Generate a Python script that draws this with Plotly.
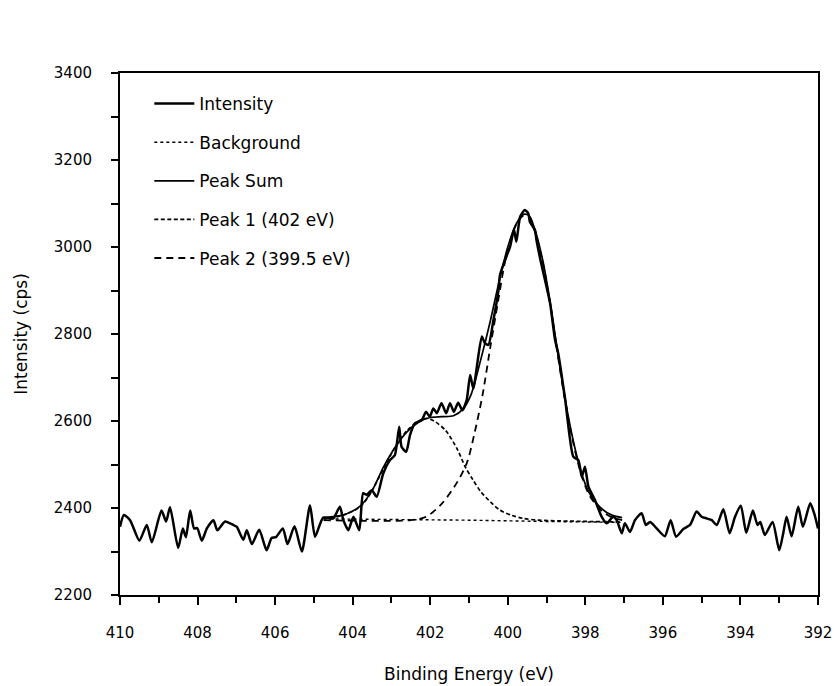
import plotly.graph_objects as go

# Measured spectrum (binding energy eV, intensity cps)
int_x = [410.00, 409.90, 409.74, 409.50, 409.31, 409.18, 408.93, 408.81, 408.71, 408.50,
         408.38, 408.30, 408.19, 408.09, 408.01, 407.89, 407.76, 407.59, 407.49, 407.29,
         407.08, 406.99, 406.82, 406.73, 406.60, 406.41, 406.22, 406.09, 405.98, 405.80,
         405.68, 405.50, 405.31, 405.10, 404.97, 404.76, 404.50, 404.33, 404.24, 404.11,
         403.98, 403.83, 403.73, 403.64, 403.51, 403.38, 403.21, 403.04, 402.91, 402.80,
         402.74, 402.62, 402.52, 402.39, 402.22, 402.11, 402.01, 401.92, 401.83, 401.71,
         401.59, 401.49, 401.39, 401.28, 401.17, 401.06, 400.97, 400.89, 400.67, 400.59,
         400.50, 400.37, 400.24, 400.20, 400.07, 399.94, 399.84, 399.78, 399.68, 399.56,
         399.47, 399.43, 399.30, 399.26, 399.13, 399.04, 398.91, 398.78, 398.70, 398.52,
         398.31, 398.18, 398.09, 398.01, 397.92, 397.75, 397.58, 397.45, 397.28, 397.19,
         397.06, 396.98, 396.85, 396.72, 396.55, 396.44, 396.33, 396.16, 395.95, 395.80,
         395.66, 395.47, 395.30, 395.13, 395.00, 394.87, 394.74, 394.61, 394.44, 394.28,
         394.14, 393.99, 393.85, 393.68, 393.56, 393.49, 393.37, 393.17, 393.00, 392.89,
         392.81, 392.68, 392.51, 392.39, 392.20, 392.10, 392.00]
int_y = [2357, 2384, 2372, 2325, 2361, 2321, 2394, 2369, 2402, 2308,
         2353, 2333, 2394, 2353, 2354, 2325, 2353, 2372, 2349, 2369,
         2361, 2357, 2327, 2349, 2317, 2350, 2303, 2331, 2333, 2353,
         2317, 2358, 2300, 2406, 2334, 2378, 2376, 2403, 2372, 2349,
         2380, 2349, 2434, 2430, 2441, 2426, 2480, 2510, 2522, 2587,
         2541, 2529, 2568, 2595, 2602, 2621, 2610, 2629, 2618, 2641,
         2618, 2641, 2621, 2642, 2625, 2648, 2706, 2675, 2794, 2779,
         2775, 2832, 2901, 2936, 2970, 3001, 3040, 3012, 3070, 3085,
         3077, 3058, 3039, 3016, 2959, 2924, 2871, 2786, 2756, 2650,
         2518, 2510, 2472, 2495, 2449, 2418, 2380, 2365, 2380, 2372,
         2342, 2365, 2345, 2372, 2388, 2361, 2368, 2353, 2335, 2372,
         2334, 2352, 2361, 2392, 2380, 2376, 2372, 2361, 2397, 2342,
         2380, 2405, 2343, 2394, 2361, 2368, 2338, 2368, 2303, 2345,
         2380, 2335, 2403, 2357, 2411, 2388, 2353]

bg_x = [404.75, 403.0, 401.0, 399.0, 397.05]
bg_y = [2375, 2374, 2372, 2369, 2367]

sum_x = [404.75, 404.2, 403.8, 403.5, 403.2, 402.9, 402.6, 402.3, 402.0, 401.7,
         401.4, 401.15, 400.95, 400.7, 400.45, 400.2, 400.0, 399.8, 399.6, 399.45,
         399.3, 399.1, 398.9, 398.7, 398.5, 398.3, 398.1, 397.9, 397.6, 397.3, 397.05]
sum_y = [2378, 2385, 2405, 2440, 2495, 2540, 2575, 2597, 2608, 2610,
         2612, 2628, 2660, 2740, 2830, 2930, 3000, 3050, 3075, 3072,
         3040, 2970, 2870, 2750, 2640, 2550, 2480, 2435, 2400, 2383, 2378]

p1_x = [404.75, 404.3, 403.8, 403.5, 403.2, 402.9, 402.6, 402.3, 402.1, 401.9,
        401.6, 401.3, 401.1, 400.9, 400.7, 400.4, 400.2, 399.9, 399.6, 399.2, 397.05]
p1_y = [2376, 2382, 2403, 2440, 2492, 2540, 2578, 2600, 2606, 2600,
        2578, 2535, 2495, 2465, 2438, 2410, 2395, 2383, 2376, 2372, 2368]

p2_x = [404.75, 402.5, 402.1, 401.7, 401.3, 401.05, 400.85, 400.65, 400.45, 400.25,
        400.05, 399.8, 399.6, 399.45, 399.3, 399.1, 398.9, 398.7, 398.5, 398.3,
        398.1, 397.9, 397.6, 397.3, 397.05]
p2_y = [2372, 2372, 2380, 2410, 2460, 2505, 2575, 2660, 2770, 2875,
        2975, 3048, 3072, 3070, 3035, 2965, 2865, 2745, 2635, 2545,
        2475, 2430, 2395, 2378, 2372]

FONT = "DejaVu Sans"

fig = go.Figure()
fig.add_trace(go.Scatter(x=int_x, y=int_y, mode="lines", name="Intensity",
                         legendgroup="a",
                         line=dict(color="black", width=2.5, shape="spline", smoothing=0.6)))
fig.add_trace(go.Scatter(x=bg_x, y=bg_y, mode="lines", name="Background",
                         legendgroup="b",
                         line=dict(color="black", width=1.4, dash="dot")))
fig.add_trace(go.Scatter(x=sum_x, y=sum_y, mode="lines", name="Peak Sum",
                         legendgroup="c",
                         line=dict(color="black", width=1.7, shape="spline", smoothing=0.8)))
fig.add_trace(go.Scatter(x=p1_x, y=p1_y, mode="lines", name="Peak 1 (402 eV)",
                         legendgroup="d",
                         line=dict(color="black", width=1.7, dash="4px,2.5px", shape="spline", smoothing=0.8)))
fig.add_trace(go.Scatter(x=p2_x, y=p2_y, mode="lines", name="Peak 2 (399.5 eV)",
                         legendgroup="e",
                         line=dict(color="black", width=1.8, dash="7px,5px", shape="spline", smoothing=0.8)))

fig.update_layout(
    width=835, height=686,
    margin=dict(l=120, r=17, t=73, b=91),
    paper_bgcolor="white", plot_bgcolor="white",
    font=dict(family=FONT, color="black", size=15),
    showlegend=True,
    legend=dict(x=0.042, y=0.975, xanchor="left", yanchor="top",
                bgcolor="rgba(0,0,0,0)", font=dict(size=17, family=FONT),
                tracegroupgap=13.5, itemwidth=40),
    xaxis=dict(range=[410, 392], autorange=False, automargin=False, tickmode="array",
               tickvals=[410, 408, 406, 404, 402, 400, 398, 396, 394, 392],
               ticktext=["410", "408", "406", "404", "402", "400", "398", "396", "394", "392"],
               ticks="outside", ticklen=8, tickwidth=1.5, tickcolor="black",
               minor=dict(tickvals=[409, 407, 405, 403, 401, 399, 397, 395, 393],
                          ticks="outside", ticklen=6, tickcolor="black", tickwidth=1.5),
               showline=True, linecolor="black", linewidth=2, mirror=True,
               showgrid=False, zeroline=False,
               tickfont=dict(size=15), ticklabelstandoff=15,
               title=dict(text="Binding Energy (eV)", font=dict(size=17), standoff=27)),
    yaxis=dict(range=[2200, 3400], autorange=False, automargin=False, tickmode="array",
               tickvals=[2200, 2400, 2600, 2800, 3000, 3200, 3400],
               ticktext=["2200", "2400", "2600", "2800", "3000", "3200", "3400"],
               ticks="outside", ticklen=7, tickwidth=1.5, tickcolor="black",
               minor=dict(tickvals=[2300, 2500, 2700, 2900, 3100, 3300],
                          ticks="outside", ticklen=7, tickcolor="black", tickwidth=1.5),
               showline=True, linecolor="black", linewidth=2, mirror=True,
               showgrid=False, zeroline=False,
               tickfont=dict(size=15), ticklabelstandoff=16,
               title=dict(text="Intensity (cps)", font=dict(size=17), standoff=22)),
)

fig.write_html("out.html")
